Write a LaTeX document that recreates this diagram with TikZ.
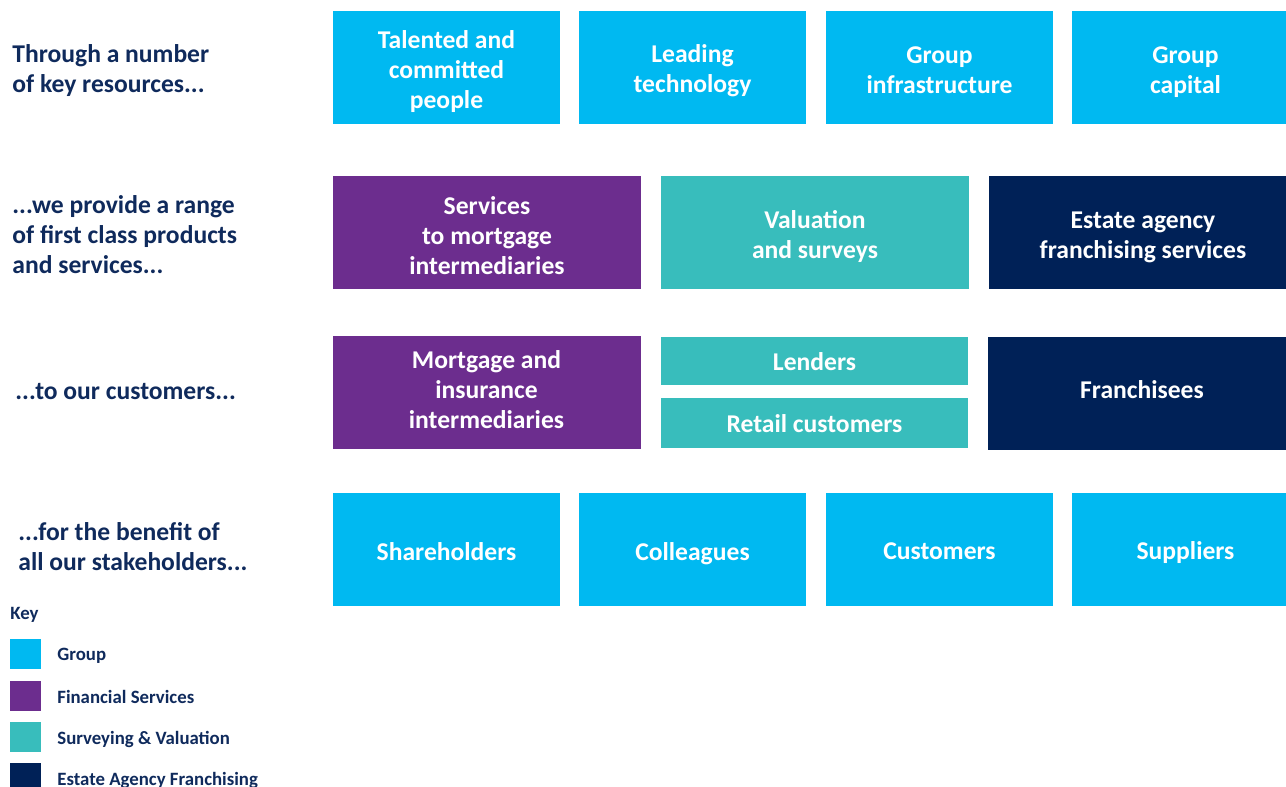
\documentclass[tikz,border=0pt]{standalone}
\usepackage{fontspec}
\setmainfont{Carlito}
\definecolor{grp}{HTML}{00B9F1}
\definecolor{fin}{HTML}{6C2D8E}
\definecolor{sur}{HTML}{38BDBC}
\definecolor{est}{HTML}{002157}
\definecolor{ink}{HTML}{0F2A5C}
\begin{document}
\begin{tikzpicture}[x=0.5pt,y=-0.5pt,
  tile/.style={rectangle, inner sep=0pt},
  tiletext/.style={inner sep=0pt, text=white, align=center,
    font=\fontsize{12.8}{15}\selectfont\bfseries, yshift=#1},
  tiletext/.default=0pt,
  wide/.style={tile, minimum width=113.5pt, minimum height=56.5pt},
  broad/.style={tile, minimum width=154pt, minimum height=56.5pt},
  caption/.style={anchor=west, inner sep=0pt, text=ink, align=left,
    font=\fontsize{12.8}{15}\selectfont\bfseries},
  swatch/.style={rectangle, inner sep=0pt, minimum width=15.5pt, minimum height=15pt, anchor=north west},
  keytext/.style={anchor=west, inner sep=0pt, text=ink, font=\fontsize{9.4}{11}\selectfont\bfseries}]
\useasboundingbox (0,0) rectangle (1286,787);
\clip (0,0) rectangle (1286,787);

% row captions
\node[caption] (c1) at (12,71) {Through a number\\of key resources...};
\node[caption] (c2) at (12,235) {...we provide a range\\of first class products\\and services...};
\node[caption] (c3) at (15,392) {...to our customers...};
\node[caption] (c4) at (18,547) {...for the benefit of\\all our stakeholders...};

% resources
\node[wide, fill=grp, label={[tiletext=-2pt]center:{Talented and\\committed\\people}}] (r1) at (446.5,67.5) {};
\node[wide, fill=grp, label={[tiletext=-1.75pt]center:{Leading\\technology}}] (r2) at (692.5,67.5) {};
\node[wide, fill=grp, label={[tiletext=-1.25pt]center:{Group\\infrastructure}}] (r3) at (939.5,67.5) {};
\node[wide, fill=grp, label={[tiletext=-2.25pt]center:{Group\\capital}}] (r4) at (1185.5,67.5) {};

% products and services
\node[broad, fill=fin, label={[tiletext=-1.5pt]center:{Services\\to mortgage\\intermediaries}}] (p1) at (487,232.5) {};
\node[broad, fill=sur, label={[tiletext=-2pt]center:{Valuation\\and surveys}}] (p2) at (815,232.5) {};
\node[broad, fill=est, label={[tiletext=-2.25pt]center:{Estate agency\\franchising services}}] (p3) at (1143,232.5) {};

% customers
\node[broad, fill=fin, label={[tiletext=1.5pt]center:{Mortgage and\\insurance\\intermediaries}}] (m1) at (486.5,392.5) {};
\node[tile, fill=sur, minimum width=153.5pt, minimum height=24pt,
  label={[tiletext=-0.5pt]center:Lenders}] (m2) at (814.5,361) {};
\node[tile, fill=sur, minimum width=153.5pt, minimum height=25pt,
  label={[tiletext=-0.5pt]center:Retail customers}] (m3) at (814.5,423) {};
\node[broad, fill=est, label={[tiletext=1.5pt]center:Franchisees}] (m4) at (1142,393) {};

% stakeholders
\node[wide, fill=grp, label={[tiletext=-1pt]center:Shareholders}] (s1) at (446.5,549.5) {};
\node[wide, fill=grp, label={[tiletext=-2pt]center:Colleagues}] (s2) at (692.5,549.5) {};
\node[wide, fill=grp, label={[tiletext=-1pt]center:Customers}] (s3) at (939.5,549.5) {};
\node[wide, fill=grp, label={[tiletext=-1.5pt]center:Suppliers}] (s4) at (1185.5,549.5) {};

% key
\node[keytext] (key) at (10,615) {Key};
\node[swatch, fill=grp] (k1) at (10,639) {};
\node[swatch, fill=fin] (k2) at (10,681) {};
\node[swatch, fill=sur] (k3) at (10,722) {};
\node[swatch, fill=est] (k4) at (10,763) {};
\node[keytext] (t1) at (57,656) {Group};
\node[keytext] (t2) at (57,697) {Financial Services};
\node[keytext] (t3) at (57,739) {Surveying \& Valuation};
\node[keytext] (t4) at (57,780) {Estate Agency Franchising};
\end{tikzpicture}
\end{document}
